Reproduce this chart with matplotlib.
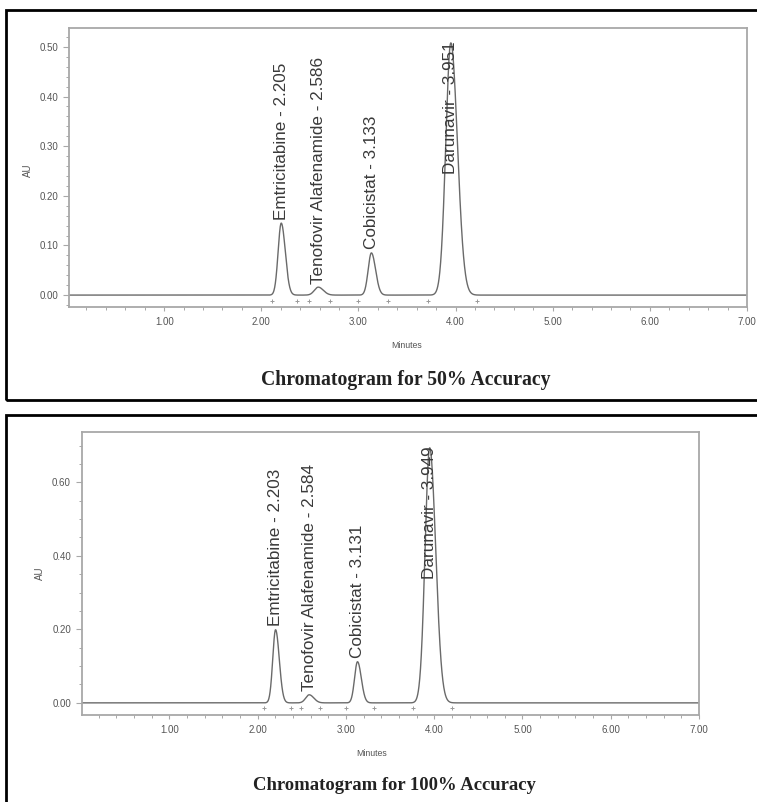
import numpy as np
import matplotlib
matplotlib.use("Agg")
import matplotlib.pyplot as plt
from matplotlib.ticker import MultipleLocator, FixedLocator
from matplotlib.patches import Rectangle
from matplotlib import font_manager
import matplotlib.transforms as mtransforms

# ---------------- data ----------------
compounds = ["Emtricitabine", "Tenofovir Alafenamide", "Cobicistat", "Darunavir"]
rt_50 = [2.205, 2.586, 3.133, 3.951]
height_50 = [0.145, 0.016, 0.085, 0.508]
rt_100 = [2.203, 2.584, 3.131, 3.949]
height_100 = [0.199, 0.022, 0.112, 0.694]
peak_sigma = [0.032, 0.040, 0.033, 0.052]
marks_50 = [2.11, 2.37, 2.49, 2.71, 3.00, 3.30, 3.72, 4.22]
marks_100 = [2.07, 2.38, 2.49, 2.71, 3.00, 3.32, 3.76, 4.20]
x_ticks = [1.0, 2.0, 3.0, 4.0, 5.0, 6.0, 7.0]
y_ticks_50 = [0.0, 0.1, 0.2, 0.3, 0.4, 0.5]
y_ticks_100 = [0.0, 0.2, 0.4, 0.6]
titles = ["Chromatogram for 50% Accuracy", "Chromatogram for 100% Accuracy"]

# ---------------- fonts ----------------
avail = {f.name for f in font_manager.fontManager.ttflist}
sans = "Liberation Sans" if "Liberation Sans" in avail else "DejaVu Sans"
narrow = "Liberation Sans Narrow" if "Liberation Sans Narrow" in avail else sans
serif = "Liberation Serif" if "Liberation Serif" in avail else "DejaVu Serif"

W, H = 757, 802
fig = plt.figure(figsize=(W / 100, H / 100), dpi=100)

def fx(px):
    return px / W

def fy(py):
    return 1 - py / H

line_col = "#6a6a6a"
spine_col = "#a8a8a8"
text_col = "#3a3a3a"


def trace(x, rts, hs, sig):
    y = np.zeros_like(x)
    for r, h, s in zip(rts, hs, sig):
        sl = s
        sr = s * 1.3
        ss = np.where(x < r, sl, sr)
        y += h * np.exp(-0.5 * ((x - r) / ss) ** 2)
    return y


def panel(rect_px, ylim, xlim, rts, hs, marks, yticks, yminor, label_px, mins_px, title_px, title, au_px):
    l, t, r, b = rect_px
    ax = fig.add_axes([fx(l), fy(b), fx(r - l), (b - t) / H])
    x = np.linspace(xlim[0], xlim[1], 4000)
    y = trace(x, rts, hs, peak_sigma)
    ax.plot(x, y, color=line_col, lw=1.0, solid_joinstyle="round")
    ax.set_xlim(*xlim)
    ax.set_ylim(*ylim)
    for s in ax.spines.values():
        s.set_color(spine_col)
        s.set_linewidth(1.3)
    ax.xaxis.set_major_locator(FixedLocator(x_ticks))
    ax.xaxis.set_minor_locator(MultipleLocator(0.2))
    ax.yaxis.set_major_locator(FixedLocator(yticks))
    ax.yaxis.set_minor_locator(MultipleLocator(yminor))
    ax.set_xticklabels([f"{v:.2f}" for v in x_ticks])
    ax.set_yticklabels([f"{v:.2f}" for v in yticks])
    ax.tick_params(axis="both", which="major", direction="out", length=4, width=0.8,
                   color=spine_col, labelsize=7, labelcolor="#555555", pad=4)
    ax.tick_params(axis="both", which="minor", direction="out", length=2.5, width=0.7,
                   color=spine_col)
    ax.tick_params(axis="x", which="major", length=3)
    for lab in ax.get_xticklabels() + ax.get_yticklabels():
        lab.set_family(narrow)
    # integration markers just below baseline
    off = mtransforms.ScaledTranslation(0, -4 / 72, fig.dpi_scale_trans)
    ax.plot(marks, np.zeros(len(marks)), linestyle="none", marker="+", ms=3.5,
            mew=0.7, color="#9a9a9a", transform=ax.transData + off, clip_on=False)
    # peak labels
    for i, (name, rt, h) in enumerate(zip(compounds, rts, hs)):
        txt = f"{name} - {rt:.3f}"
        if i == 3:
            ax.annotate(txt, xy=(rt, h), xytext=(0, 1), textcoords="offset points",
                        rotation=90, ha="center", va="top", fontsize=12.3,
                        family=sans, color=text_col, rotation_mode="anchor" if False else "default")
        else:
            ax.annotate(txt, xy=(rt, h), xytext=(0, 2.5), textcoords="offset points",
                        rotation=90, ha="center", va="bottom", fontsize=12.3,
                        family=sans, color=text_col)
    fig.text(fx(au_px[0]), fy(au_px[1]), "AU", rotation=90, ha="center", va="center",
             fontsize=7, family=sans, color="#555555")
    fig.text(fx(mins_px[0]), fy(mins_px[1]), "Minutes", ha="center", va="center",
             fontsize=6.3, family=narrow, color="#555555")
    fig.text(fx(title_px[0]), fy(title_px[1]), title, ha="center", va="center",
             fontsize=title_px[2], family=serif, weight="bold", color="#222222")
    return ax


ax1 = panel((69, 28, 747, 307), (-0.024, 0.538), (0.02, 7.0), rt_50, height_50, marks_50,
            y_ticks_50, 0.02, None, (407, 346), (406, 380, 14.2), titles[0], (28, 170))
ax2 = panel((82, 432, 699, 715), (-0.033, 0.737), (0.01, 7.0), rt_100, height_100, marks_100,
            y_ticks_100, 0.05, None, (372, 754), (394, 786, 13.4), titles[1], (40, 573))

# outer black frames
fig.patches.append(Rectangle((fx(6), fy(400)), fx(800), (400 - 10) / H, transform=fig.transFigure,
                             fill=False, edgecolor="black", lw=2.0, clip_on=False))
fig.patches.append(Rectangle((fx(6), fy(850)), fx(800), (850 - 415) / H, transform=fig.transFigure,
                             fill=False, edgecolor="black", lw=2.0, clip_on=False))

fig.savefig("out.png", dpi=100)
